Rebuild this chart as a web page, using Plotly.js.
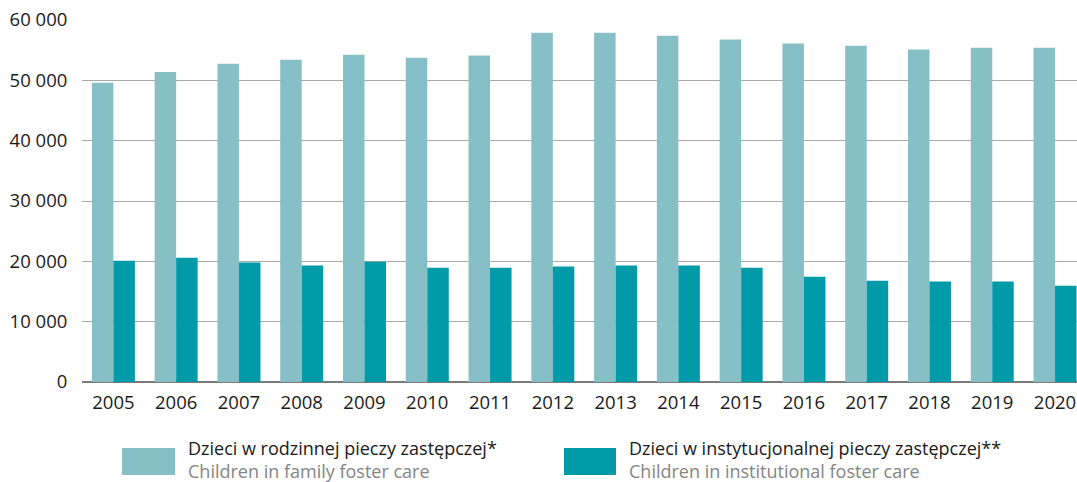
<!DOCTYPE html>
<html><head><meta charset="utf-8">
<script src="https://cdn.plot.ly/plotly-3.0.1.min.js"></script>
<style>html,body{margin:0;padding:0;background:#fff}#chart{width:1077px;height:482px}</style>
</head><body><div id="chart"></div>
<script>
const years = ["2005","2006","2007","2008","2009","2010","2011","2012","2013","2014","2015","2016","2017","2018","2019","2020"];
const familyCare = [49600,51400,52750,53400,54250,53750,54100,57900,57900,57400,56750,56100,55750,55100,55400,55400];
const institutionalCare = [20100,20600,19800,19300,19950,18950,18950,19150,19300,19300,18950,17450,16800,16650,16650,15950];
const seriesPL = ["Dzieci w rodzinnej pieczy zastępczej*","Dzieci w instytucjonalnej pieczy zastępczej**"];
const seriesEN = ["Children in family foster care","Children in institutional foster care"];
const colors = ["#86bfc6","#009aa8"];
const yTicks = [0,10000,20000,30000,40000,50000,60000];

const W=1077,H=482,L=82,R=0,T=20,B=100;
const pw=W-L-R, ph=H-T-B;
const px=x=>(x-L)/pw, py=y=>(H-B-y)/ph;

const font="'Open Sans', 'Noto Sans', sans-serif";
const traces=[familyCare,institutionalCare].map((v,i)=>({
  type:'bar', x:years, y:v, name:seriesPL[i], marker:{color:colors[i]}, hoverinfo:'x+y'
}));

const legX=[[122,175,187],[564,616,628]];
const shapes=[], annotations=[];
legX.forEach((p,i)=>{
  shapes.push({type:'rect',xref:'paper',yref:'paper',x0:px(p[0]),x1:px(p[1]),y0:py(448),y1:py(475),fillcolor:colors[i],line:{width:0}});
  annotations.push({xref:'paper',yref:'paper',x:px(p[2]),y:py(435),xanchor:'left',yanchor:'top',align:'left',showarrow:false,borderpad:0,
    text:seriesPL[i]+'<br><span style="color:#858585">'+seriesEN[i]+'</span>',font:{family:font,size:18,color:'#1a1a1a'}});
});

const layout={
  width:W,height:H,margin:{l:L,r:R,t:T,b:B,pad:0},
  paper_bgcolor:'#fff',plot_bgcolor:'#fff',
  barmode:'group',bargap:0.315,bargroupgap:0,
  showlegend:false,separators:', ',
  font:{family:font,size:18.5,color:'#1a1a1a'},
  xaxis:{type:'category',range:[-0.5,15.35],showgrid:false,showline:false,zeroline:false,
    ticks:'outside',ticklen:4,tickcolor:'rgba(0,0,0,0)',tickfont:{family:font,size:18.5,color:'#1a1a1a'},fixedrange:true},
  yaxis:{range:[0,60000],tickvals:yTicks,tickformat:',d',showgrid:true,gridcolor:'#a8a8a8',gridwidth:1,
    zeroline:true,zerolinecolor:'#7a7a7a',zerolinewidth:1.5,showline:false,
    ticks:'outside',ticklen:10,tickcolor:'rgba(0,0,0,0)',tickfont:{family:font,size:18.5,color:'#1a1a1a'},fixedrange:true},
  shapes:shapes,annotations:annotations
};
Plotly.newPlot('chart',traces,layout,{displayModeBar:false,staticPlot:true});
</script></body></html>
